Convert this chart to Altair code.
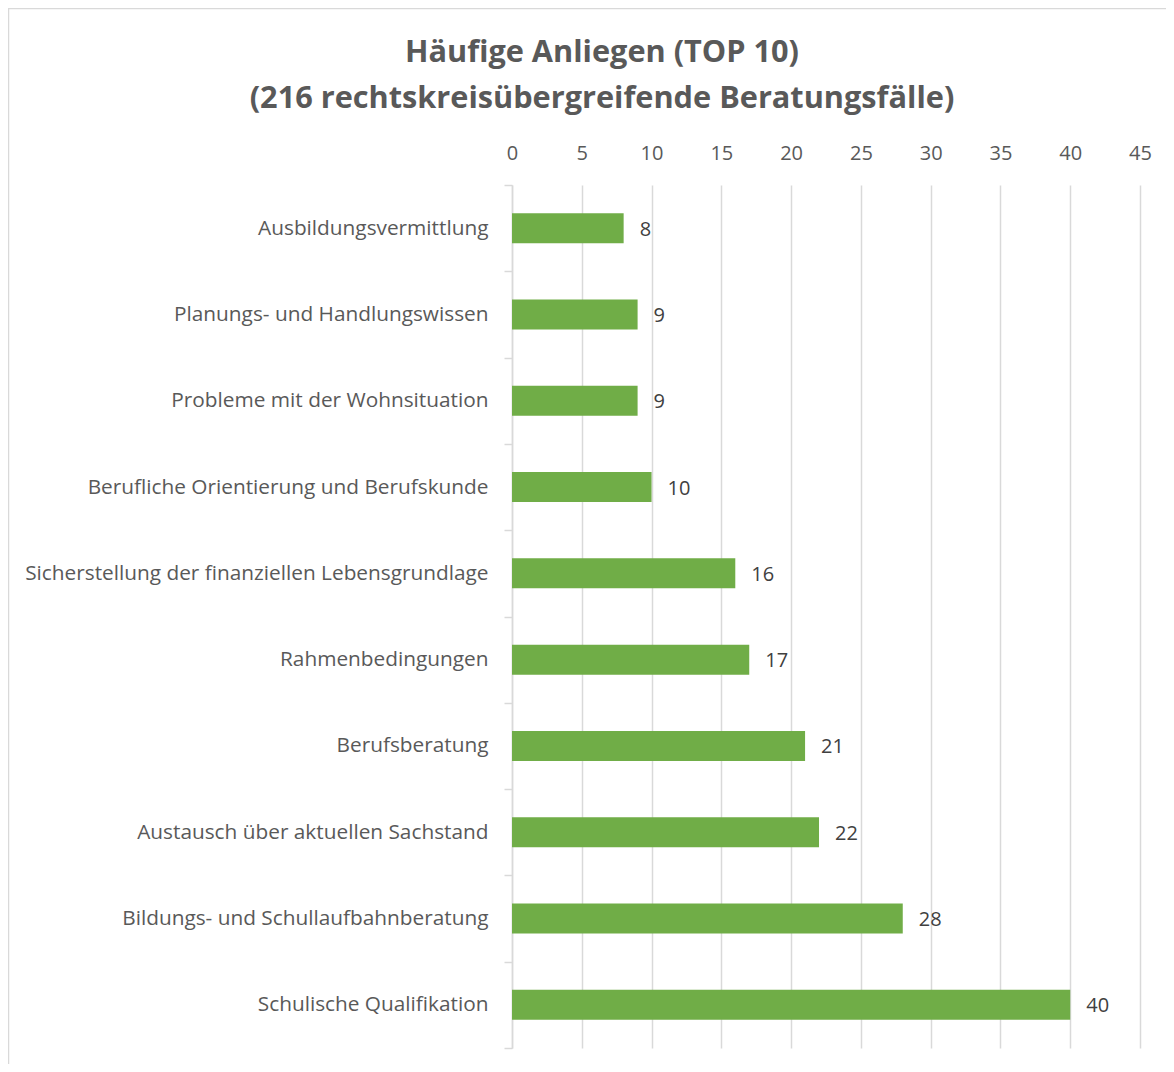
import altair as alt
import pandas as pd

categories = [
    "Ausbildungsvermittlung",
    "Planungs- und Handlungswissen",
    "Probleme mit der Wohnsituation ",
    "Berufliche Orientierung und Berufskunde",
    "Sicherstellung der finanziellen Lebensgrundlage",
    "Rahmenbedingungen",
    "Berufsberatung",
    "Austausch über aktuellen Sachstand",
    "Bildungs- und Schullaufbahnberatung",
    "Schulische Qualifikation ",
]
values = [8, 9, 9, 10, 16, 17, 21, 22, 28, 40]
title_lines = ["Häufige Anliegen (TOP 10)", "(216 rechtskreisübergreifende Beratungsfälle)"]

df = pd.DataFrame({"cat": categories, "val": values})

FONT = "Open Sans"
GRAY = "#d9d9d9"
TXT = "#595959"

base = alt.Chart(df)

bars = base.mark_bar(color="#70AD47", size=30).encode(
    x=alt.X(
        "val:Q",
        scale=alt.Scale(domain=[0, 45], nice=False),
        axis=alt.Axis(
            orient="top", values=list(range(0, 50, 5)), title=None, ticks=False,
            domain=False, grid=True, gridColor=GRAY, gridWidth=1.5,
            labelFont=FONT, labelFontSize=20, labelColor=TXT, labelPadding=22,
            labelFlush=False,
        ),
    ),
    y=alt.Y(
        "cat:N", sort=None, title=None,
        scale=alt.Scale(paddingInner=0, paddingOuter=0),
        axis=alt.Axis(
            orient="left", tickBand="extent", ticks=True, tickColor=GRAY, tickSize=8,
            tickWidth=1.5, domain=True, domainColor=GRAY, domainWidth=1.5,
            labelFont=FONT, labelFontSize=20.8, labelColor=TXT, labelPadding=16,
            labelLimit=600,
        ),
    ),
)

labels = base.mark_text(align="left", baseline="middle", dx=16, dy=1.5, font=FONT, fontSize=20, color="#404040").encode(
    x="val:Q", y=alt.Y("cat:N", sort=None), text="val:Q"
)

border_df = pd.DataFrame({"a": [0]})
border = alt.Chart(border_df).mark_rect(fill=None, stroke=GRAY, strokeWidth=1.5).encode(
    x=alt.value(-503.5), y=alt.value(-176.5), x2=alt.value(900), y2=alt.value(1100)
)

chart = alt.layer(border, bars, labels).properties(
    width=628, height=863,
    padding={"left": 504, "top": 177, "right": 26, "bottom": 16},
    autosize=alt.AutoSizeParams(type="none"),
    title=alt.Title(
        text=title_lines, anchor="middle", frame="group", dx=-224, offset=-107,
        font=FONT, fontSize=30.7, fontWeight="bold", color=TXT, lineHeight=46,
    ),
).configure_view(stroke=None)

chart.save("out.html", embed_options={"renderer": "svg", "actions": False})
